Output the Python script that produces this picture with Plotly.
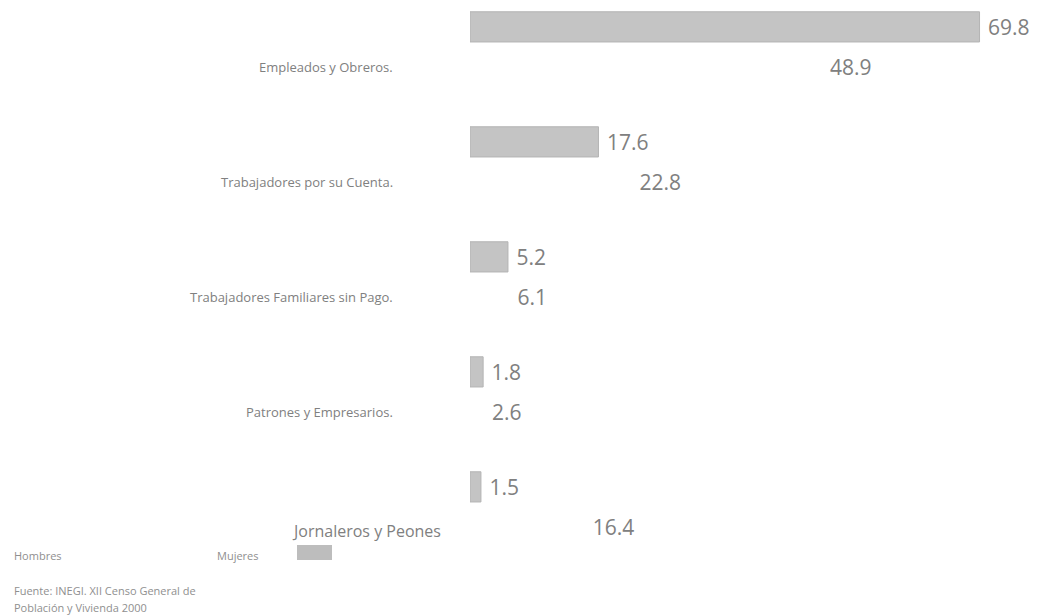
import plotly.graph_objects as go

categories = [
    "Empleados y Obreros.",
    "Trabajadores por su Cuenta.",
    "Trabajadores Familiares sin Pago.",
    "Patrones y Empresarios.",
    "Jornaleros y Peones",
]
mujeres = [69.8, 17.6, 5.2, 1.8, 1.5]
hombres = [48.9, 22.8, 6.1, 2.6, 16.4]
value_labels_m = ["69.8", "17.6", "5.2", "1.8", "1.5"]
value_labels_h = ["48.9", "22.8", "6.1", "2.6", "16.4"]

TXT = "#808080"
GRAY = "#c4c4c4"
FONT = "Open Sans"

O = 8  # page body margin of the html
FIG_W, FIG_H = 1053 - O, 616 - O
L, R, T, B = 470 - O, 40, 0, 10
H = FIG_H - T - B
W = FIG_W - L - R


def px(xp):
    return (xp - O - L) / W


def py(yp):
    return 1 - (yp - O - T) / H


fig = go.Figure()
fig.add_trace(go.Bar(
    name="Mujeres", y=categories, x=mujeres, orientation="h",
    marker=dict(color=GRAY, line=dict(color="#b4b4b4", width=1)),
    text=value_labels_m, texttemplate=" %{text}", textposition="outside",
    cliponaxis=False,
    textfont=dict(family=FONT, size=21, color=TXT),
))
fig.add_trace(go.Bar(
    name="Hombres", y=categories, x=hombres, orientation="h",
    marker=dict(color="rgba(255,255,255,0)", line=dict(width=0)),
    text=value_labels_h, textposition="outside", cliponaxis=False,
    textfont=dict(family=FONT, size=21, color=TXT),
))

step = 115.0
top = -(47.0 - O) / step
bottom = top + H / step

annotations = []
for i, c in enumerate(categories):
    last = i == len(categories) - 1
    annotations.append(dict(
        x=px(443) if last else px(395), xref="paper", xanchor="right",
        y=c, yref="y", yshift=-24 if last else -20, showarrow=False,
        text=c, font=dict(family=FONT, size=16 if last else 13, color=TXT),
    ))

small = dict(family=FONT, size=11, color="#8f8f8f")
for xp, yp, t in [
    (12, 555, "Hombres"),
    (215, 555, "Mujeres"),
    (12, 590, "Fuente: INEGI. XII Censo General de"),
    (12, 607, "Población y Vivienda 2000"),
]:
    annotations.append(dict(x=px(xp), y=py(yp), xref="paper", yref="paper",
                            xanchor="left", yanchor="middle", text=t,
                            showarrow=False, font=small))

fig.update_layout(
    width=FIG_W, height=FIG_H,
    margin=dict(l=L, r=R, t=T, b=B),
    paper_bgcolor="white", plot_bgcolor="white",
    barmode="group", bargap=0.30, bargroupgap=0.25,
    showlegend=False,
    xaxis=dict(range=[0, W / 7.3], visible=False),
    yaxis=dict(range=[bottom, top], showticklabels=False, showgrid=False,
               zeroline=False, showline=False, ticks=""),
    annotations=annotations,
    shapes=[dict(type="rect", xref="paper", yref="paper",
                 x0=px(297), x1=px(332), y0=py(560), y1=py(545),
                 fillcolor="#bdbdbd", line=dict(width=0))],
)

fig.write_html("out.html")
